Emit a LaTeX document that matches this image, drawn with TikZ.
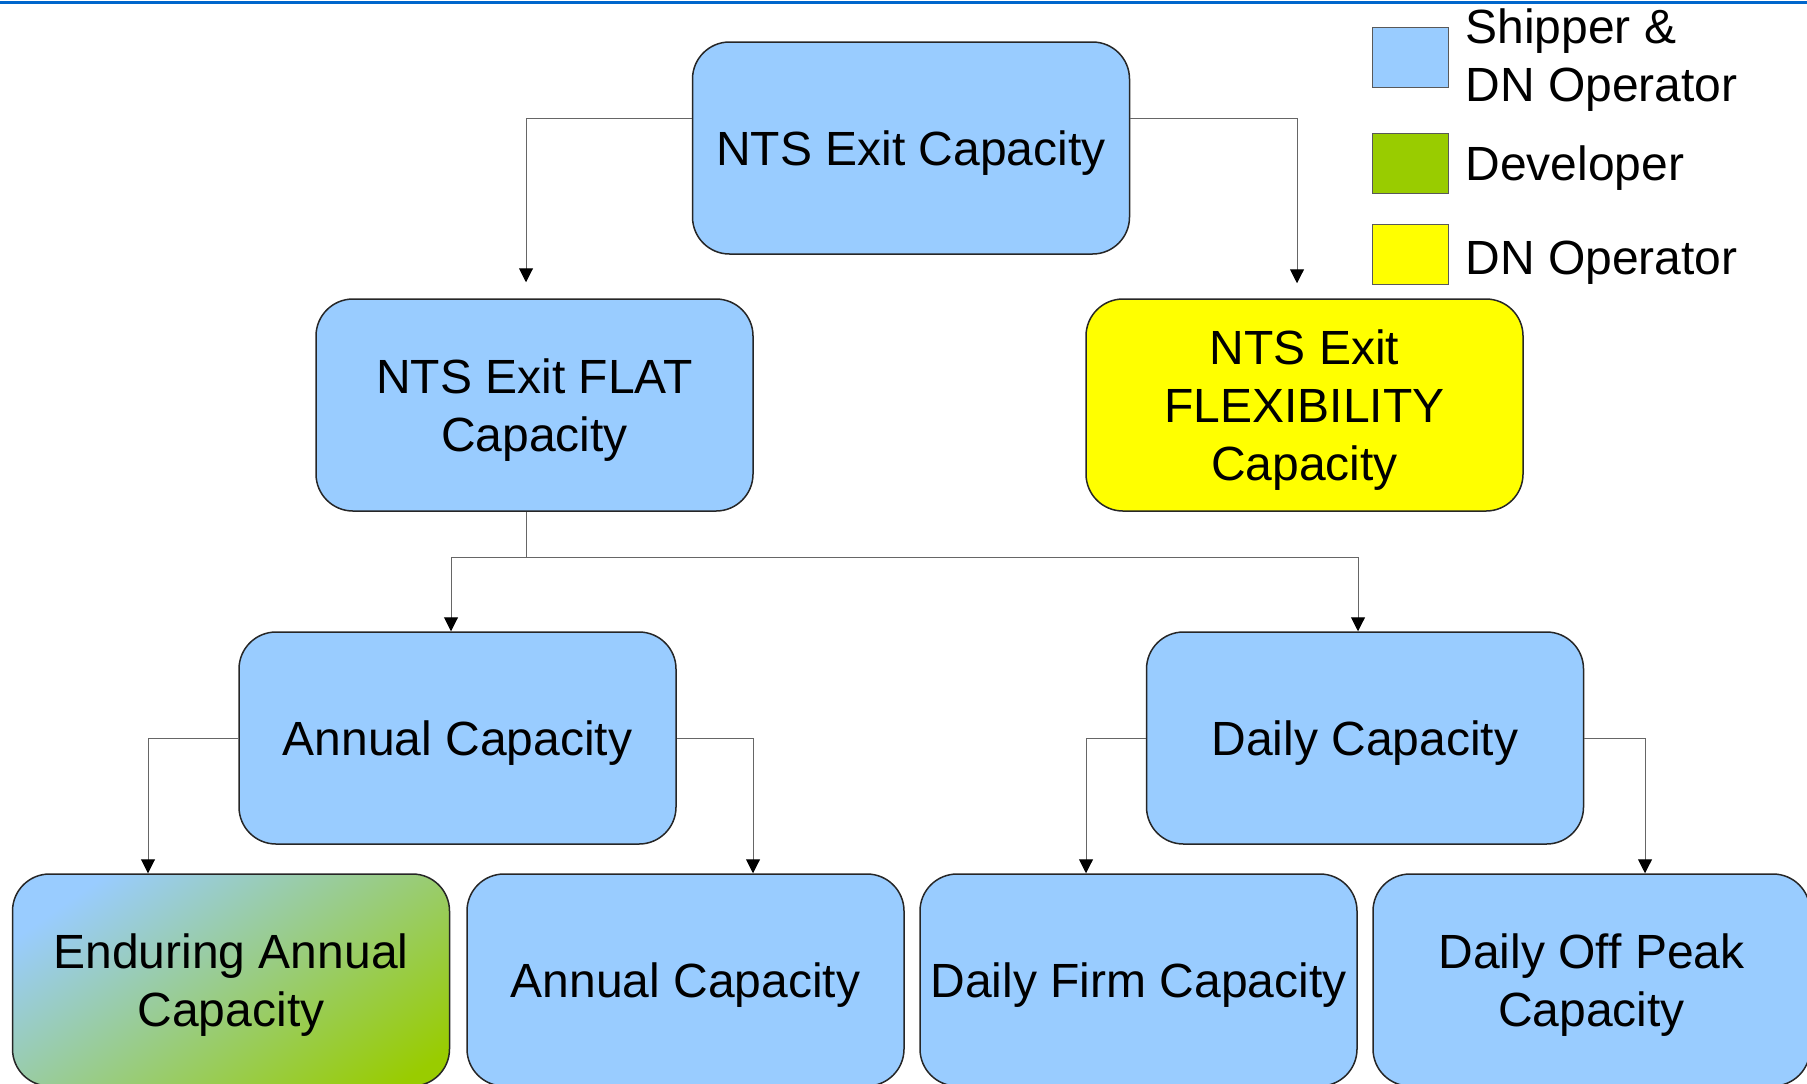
\documentclass[tikz,border=0pt]{standalone}
\usepackage{fontspec}
\setmainfont{Liberation Sans}
\usetikzlibrary{arrows.meta,calc}
\definecolor{boxblue}{RGB}{153,204,255}
\definecolor{boxgreen}{RGB}{153,204,0}
\definecolor{boxyellow}{RGB}{255,255,0}
\definecolor{topline}{RGB}{0,102,204}
\pgfdeclarehorizontalshading{endgrad}{100bp}{color(0bp)=(boxblue); color(24bp)=(boxblue); color(80bp)=(boxgreen); color(100bp)=(boxgreen)}
\begin{document}
\begin{tikzpicture}[x=0.5pt,y=-0.5pt,
  box/.style={draw=black!85, line width=0.75pt, rounded corners=18.5pt,
    minimum width=218.5pt, minimum height=106pt, align=center, inner sep=0pt,
    text depth=0pt, font=\fontsize{24}{28.8}\selectfont},
  bluebox/.style={box, fill=boxblue},
  conn/.style={draw=black!60, line width=0.5pt},
  arr/.style={conn, -{Triangle[length=7pt,width=7pt,black]}},
  legbox/.style={draw=black!65, line width=0.5pt, minimum width=38pt, minimum height=30pt, inner sep=0pt},
  legtext/.style={anchor=west, align=left, inner sep=0pt, font=\fontsize{24}{28.8}\selectfont}
]
\useasboundingbox (0,0) rectangle (1807,1083);
\clip (0,0) rectangle (1807,1083);
\draw[topline, line width=1.25pt] (0,2.6) -- (1807,2.6);

% nodes
\node[bluebox] (top) at (911,148) {NTS Exit Capacity};
\node[bluebox] (flat) at (534.5,405) {NTS Exit FLAT\\Capacity};
\node[box, fill=boxyellow] (flex) at (1304.5,405) {NTS Exit\\FLEXIBILITY\\Capacity};
\node[bluebox] (ann) at (457.5,738) {Annual Capacity};
\node[bluebox] (daily) at (1365,738) {Daily Capacity};
\node[box, shading=endgrad, shading angle=-55] (endur) at (231,980) {Enduring Annual\\Capacity};
\node[bluebox] (annb) at (685.5,980) {Annual Capacity};
\node[bluebox] (firm) at (1138.5,980) {Daily Firm Capacity};
\node[bluebox] (offp) at (1591.5,980) {Daily Off Peak\\Capacity};

% legend
\node[legbox, fill=boxblue] (lg1) at (1410,57.5) {};
\node[legbox, fill=boxgreen] (lg2) at (1410,163) {};
\node[legbox, fill=boxyellow] (lg3) at (1410,254) {};
\node[legtext] (lt1) at (1465,60) {Shipper \&\\DN Operator};
\node[legtext] (lt2) at (1465,168) {Developer};
\node[legtext] (lt3) at (1465,263) {DN Operator};

% connectors
\draw[arr, shorten >=8pt] ([yshift=15pt]top.west) -| ([xshift=-4.25pt]flat.north);
\draw[arr, shorten >=7.5pt] ([yshift=15pt]top.east) -| ([xshift=-3.75pt]flex.north);
\coordinate (j) at ([xshift=-4.25pt,yshift=-23pt]flat.south);
\draw[conn] ([xshift=-4.25pt]flat.south) -- (j);
\draw[arr] (j) -| ([xshift=-3.25pt]ann.north);
\draw[arr] (j) -| ([xshift=-3.5pt]daily.north);
\draw[arr] (ann.west) -| ([xshift=-41.5pt]endur.north);
\draw[arr] (ann.east) -| ([xshift=33.75pt]annb.north);
\draw[arr] (daily.west) -| ([xshift=-26.25pt]firm.north);
\draw[arr] (daily.east) -| ([xshift=26.75pt]offp.north);
\end{tikzpicture}
\end{document}
